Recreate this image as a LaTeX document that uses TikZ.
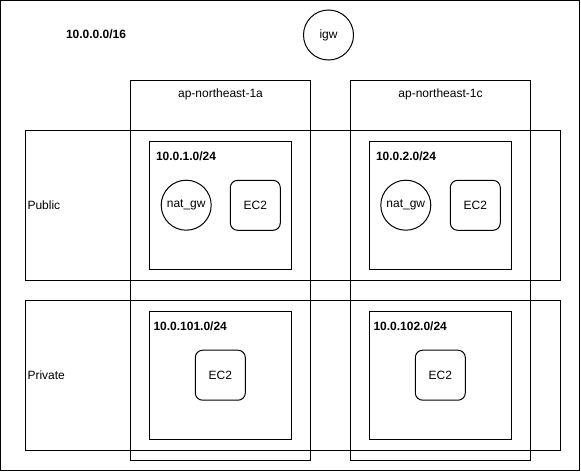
\documentclass[tikz,border=0pt]{standalone}
\usepackage{fontspec}
\setmainfont{Liberation Sans}
\usetikzlibrary{fit}
\begin{document}
\begin{tikzpicture}[x=0.75pt,y=-0.75pt,line width=0.75pt,
  font=\fontsize{9}{11}\selectfont,
  box/.style={draw,rectangle,inner sep=0pt},
  gw/.style={draw,circle,inner sep=0pt,minimum size=37.5pt},
  inst/.style={draw,rectangle,rounded corners=5.5pt,inner sep=0pt,minimum size=37.5pt},
  lbl/.style={inner sep=0pt,anchor=west},
  bold/.style={lbl,font=\fontsize{9}{11}\selectfont\bfseries}]
\useasboundingbox (0,0) rectangle (581,471);
% VPC
\node[box,fit={(0.5,0.5) (579.5,470)}] (vpc) {};
\node[bold] (vpclbl) at (65.5,34.5) {10.0.0.0/16};
\node[gw] (igw) at (328.5,35) {igw};
% availability zones
\node[box,fit={(130.5,80.5) (310.5,460.5)}] (aza) {};
\node[box,fit={(350.5,80.5) (530.5,460.5)}] (azc) {};
\node[inner sep=0pt] (azalbl) at (220.5,94.5) {ap-northeast-1a};
\node[inner sep=0pt] (azclbl) at (440.5,94.5) {ap-northeast-1c};
% rows
\node[box,fit={(25.5,130.5) (560,280)}] (pub) {};
\node[box,fit={(25.5,300.5) (560,450)}] (priv) {};
\node[lbl] (publbl) at (27,205) {Public};
\node[lbl] (privlbl) at (27,375) {Private};
% public subnets
\node[box,fit={(149.5,141.5) (291.5,269.5)}] (sn1) {};
\node[bold] (sn1lbl) at (155.5,156) {10.0.1.0/24};
\node[gw] (nat1) at (186.2,205.2) {nat\_gw};
\node[inst] (ec2a) at (255.3,205.3) {EC2};
\node[box,fit={(369.5,141.5) (511.5,269.5)}] (sn2) {};
\node[bold] (sn2lbl) at (375.5,156) {10.0.2.0/24};
\node[gw] (nat2) at (405.8,205.2) {nat\_gw};
\node[inst] (ec2c) at (475.3,205.3) {EC2};
% private subnets
\node[box,fit={(149.5,311) (291.5,439.3)}] (sn101) {};
\node[bold] (sn101lbl) at (153,326.5) {10.0.101.0/24};
\node[inst] (ec2pa) at (220.3,375.2) {EC2};
\node[box,fit={(369.5,311) (511.5,439.3)}] (sn102) {};
\node[bold] (sn102lbl) at (373,326.5) {10.0.102.0/24};
\node[inst] (ec2pc) at (440.3,375.2) {EC2};
\end{tikzpicture}
\end{document}
